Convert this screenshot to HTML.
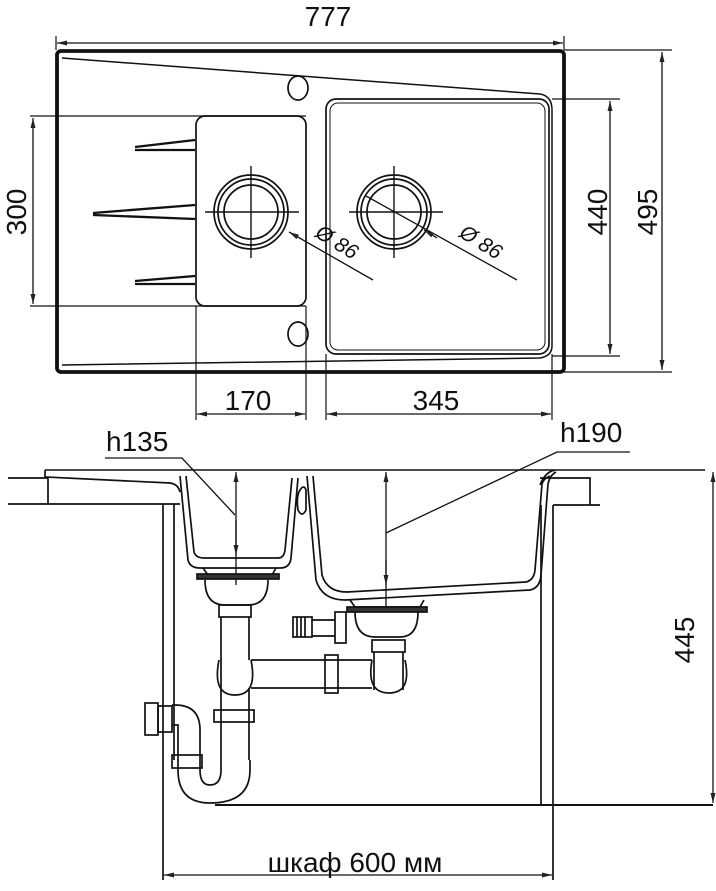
<!DOCTYPE html>
<html><head><meta charset="utf-8"><style>
html,body{margin:0;padding:0;background:#fff}
svg{display:block}
text{font-family:"Liberation Sans",sans-serif;fill:#111}
</style></head><body>
<svg width="716" height="891" viewBox="0 0 716 891" xmlns="http://www.w3.org/2000/svg">
<defs>
<marker id="a" viewBox="0 0 10 6" refX="10" refY="3" markerWidth="11" markerHeight="6" orient="auto-start-reverse" markerUnits="userSpaceOnUse"><path d="M0,0.5 L10,3 L0,5.5 Z" fill="#222"/></marker>
</defs>
<g fill="none" stroke="#111" stroke-width="1.7">
<rect x="57" y="51" width="507" height="321" rx="4" stroke-width="3.8"/>
<path d="M62,58 L540,94 Q552,96 552,110 L552,346 Q552,356 540,358 L62,365" stroke-width="1.5"/>
<rect x="326" y="99" width="223" height="255" rx="10"/>
<rect x="330" y="103" width="215" height="247" rx="8" stroke-width="1"/>
<rect x="196" y="116" width="110" height="190" rx="9"/>
<ellipse cx="298" cy="88" rx="10" ry="12"/>
<ellipse cx="298" cy="334" rx="10" ry="12"/>
<path d="M135,147 L195,140 M135,150 L195,150" stroke-width="2.3"/>
<path d="M93,213 L195,205 M93,215 L195,219" stroke-width="2.3"/>
<path d="M135,281 L195,276 M135,284 L195,284" stroke-width="2.3"/>
<circle cx="251" cy="212" r="37"/><circle cx="251" cy="212" r="33"/><circle cx="251" cy="212" r="27"/>
<circle cx="394" cy="212" r="37"/><circle cx="394" cy="212" r="33"/><circle cx="394" cy="212" r="27"/>
<path d="M205,212 H299 M251,166 V258 M349,212 H443 M394,166 V258" stroke-width="1.4"/>
<path d="M289,232 L373,280" marker-start="url(#a)" stroke-width="1.3"/>
<path d="M366,196 L517,280" stroke-width="1.3"/>
<path d="M424,230 L437,238" marker-start="url(#a)" stroke-width="1.3"/>
<path d="M56,36 V50 M564,36 V50" stroke-width="1.2"/>
<path d="M57,43 H563" marker-start="url(#a)" marker-end="url(#a)" stroke-width="1.3"/>
<path d="M564,50 H672 M552,99 H620 M552,356 H620 M564,372 H672" stroke-width="1.2"/>
<path d="M662,52 V370" marker-start="url(#a)" marker-end="url(#a)" stroke-width="1.3"/>
<path d="M610,101 V354" marker-start="url(#a)" marker-end="url(#a)" stroke-width="1.3"/>
<path d="M30,116 H306 M30,306 H306" stroke-width="1.2"/>
<path d="M33,118 V304" marker-start="url(#a)" marker-end="url(#a)" stroke-width="1.3"/>
<path d="M196,306 V420 M306,306 V420 M326,354 V420 M552,354 V420" stroke-width="1.2"/>
<path d="M197,414 H305" marker-start="url(#a)" marker-end="url(#a)" stroke-width="1.3"/>
<path d="M327,414 H551" marker-start="url(#a)" marker-end="url(#a)" stroke-width="1.3"/>

<path d="M45,470 H705" stroke-width="1.6"/>
<path d="M45,470 L45,477 L170,483 Q178,484 180,492" />
<path d="M8,478 H48 M8,504 H180 M48,478 V504" />
<path d="M540,478 H590 V505 H553 M590,505 H600" />
<path d="M555,470 Q545,472 540,485" />
<path d="M180,476 L188,560 Q190,568 200,568 L280,568 Q290,568 291,558 L298,478"/>
<path d="M186,476 L194,552 Q196,558 204,558 L278,558 Q284,558 285,550 L292,478"/>
<path d="M307,476 L316,580 Q322,600 345,600 L530,590 Q540,588 541,575 L548,484 Q550,475 556,472"/>
<path d="M313,476 L322,575 Q327,592 347,592 L526,582 Q534,580 535,570 L542,484 Q544,478 550,476"/>
<path d="M300,490 Q296,496 298,510 Q302,518 306,510 L306,490 Q304,484 300,490 Z"/>
<path d="M163,504 V880 M174,504 V760 M541,505 V805 M553,505 V880"/>
<path d="M215,805 H713" stroke-width="1.9"/>
<path d="M713,472 V803" marker-start="url(#a)" marker-end="url(#a)" stroke-width="1.3"/>
<path d="M164,875 H552" marker-start="url(#a)" marker-end="url(#a)" stroke-width="1.3"/>
<path d="M236,472 V585" marker-start="url(#a)" stroke-width="1.3"/>
<path d="M236,520 V555" marker-end="url(#a)" stroke-width="1.3"/>
<path d="M386,472 V610" marker-start="url(#a)" stroke-width="1.3"/>
<path d="M386,560 V585" marker-end="url(#a)" stroke-width="1.3"/>
<path d="M105,458 H182 L235,515" stroke-width="1.3"/>
<path d="M386,533 L557,452 H630" stroke-width="1.3"/>
<path d="M203,568 L208,575 H272 L276,568"/>
<rect x="197" y="574" width="82" height="5" fill="#333"/>
<path d="M205,580 Q205,605 225,605 H248 Q268,605 268,580"/>
<rect x="219" y="605" width="32" height="12"/>
<path d="M221,617 V745 M249,617 V660 M249,688 V760 M221,760 V745"/>
<path d="M219,660 Q212,695 235,695 Q258,695 251,660" />
<path d="M251,660 H372 M251,688 H372"/>
<rect x="325" y="655" width="13" height="38"/>
<rect x="214" y="710" width="40" height="12"/>
<path d="M221,760 L221,770 Q221,785 210,785 Q200,785 200,770 L200,730 Q200,705 175,705 H172"/>
<path d="M250,760 V770 Q250,803 210,803 Q178,803 178,770 V725 L172,725"/>
<rect x="172" y="755" width="30" height="13"/>
<rect x="145" y="703" width="13" height="32"/>
<rect x="158" y="706" width="14" height="26"/>
<path d="M350,600 L355,607 H420 L424,600"/>
<rect x="347" y="607" width="80" height="5" fill="#333"/>
<path d="M355,612 Q355,637 375,637 H400 Q418,637 418,612"/>
<rect x="372" y="640" width="33" height="12"/>
<path d="M374,652 V690 M403,652 V690"/>
<path d="M372,660 Q366,693 389,693 Q412,693 405,660"/>
<path d="M312,620 H335 M312,636 H335"/>
<rect x="293" y="617" width="19" height="20"/>
<path d="M297,617 V637 M301,617 V637 M305,617 V637"/>
<rect x="335" y="612" width="11" height="31"/>
</g>
<g font-size="28">
<text x="328" y="26" text-anchor="middle">777</text>
<text x="248" y="410" text-anchor="middle">170</text>
<text x="436" y="410" text-anchor="middle">345</text>
<text transform="translate(26,212) rotate(-90)" text-anchor="middle">300</text>
<text transform="translate(607,212) rotate(-90)" text-anchor="middle">440</text>
<text transform="translate(657,212) rotate(-90)" text-anchor="middle">495</text>
<text transform="translate(694,640) rotate(-90)" text-anchor="middle">445</text>
<text x="106" y="451">h135</text>
<text x="560" y="442">h190</text>
<text x="355" y="872" text-anchor="middle">шкаф 600 мм</text>
</g>
<g font-size="21" font-style="italic">
<text transform="translate(314,236) rotate(32)">Ø 86</text>
<text transform="translate(458,236) rotate(32)">Ø 86</text>
</g>
</svg>
</body></html>
